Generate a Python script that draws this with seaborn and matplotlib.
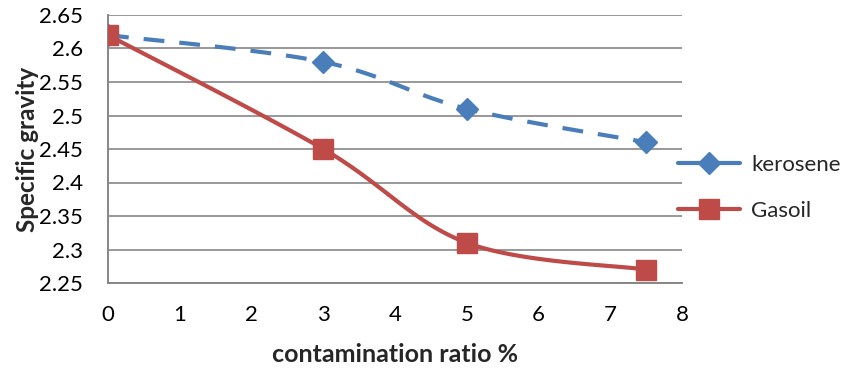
import numpy as np
import pandas as pd
import matplotlib
matplotlib.use("Agg")
import matplotlib.pyplot as plt
from matplotlib.lines import Line2D
import seaborn as sns

# ---- data ----
ratio = [0, 3, 5, 7.5]
kerosene = [2.62, 2.58, 2.51, 2.46]
gasoil = [2.62, 2.45, 2.31, 2.27]
series_names = ["kerosene", "Gasoil"]
x_ticks = [0, 1, 2, 3, 4, 5, 6, 7, 8]
y_ticks = [2.25, 2.3, 2.35, 2.4, 2.45, 2.5, 2.55, 2.6, 2.65]

BLUE = "#4A7EBB"
RED = "#BE4B48"
GRID = "#868686"


def smooth(xs, ys, xr=8.0, yr=0.4, n=40):
    """Catmull-Rom smoothing (like Excel 'smoothed line') through the data points."""
    P = np.column_stack([np.asarray(xs, float) / xr, np.asarray(ys, float) / yr * 0.47])
    P = np.vstack([P[0], P, P[-1]])
    out = []
    for i in range(1, len(P) - 2):
        p0, p1, p2, p3 = P[i - 1], P[i], P[i + 1], P[i + 2]
        t = np.linspace(0, 1, n)[:, None]
        c1 = p1 + (p2 - p0) / 6.0
        c2 = p2 - (p3 - p1) / 6.0
        seg = ((1 - t) ** 3) * p1 + 3 * ((1 - t) ** 2) * t * c1 + 3 * (1 - t) * t ** 2 * c2 + t ** 3 * p2
        out.append(seg if i == 1 else seg[1:])
    S = np.vstack(out)
    return S[:, 0] * xr, S[:, 1] * yr / 0.47


sns.set_style("white")
plt.rcParams["font.family"] = ["Lato", "DejaVu Sans"]

fig = plt.figure(figsize=(8.56, 3.70), dpi=100)
ax = fig.add_axes([108 / 856, 1 - 283 / 370, (682 - 108) / 856, 268 / 370])

kx, ky = smooth(ratio, kerosene)
gx, gy = smooth(ratio, gasoil)
dk = pd.DataFrame({"x": kx, "y": ky})
dg = pd.DataFrame({"x": gx, "y": gy})

sns.lineplot(data=dk, x="x", y="y", ax=ax, color=BLUE, lw=3.0, sort=False,
             estimator=None)
ax.lines[-1].set_dashes((5.0, 3.6))
sns.lineplot(data=dg, x="x", y="y", ax=ax, color=RED, lw=3.0, sort=False,
             estimator=None)

ax.plot(ratio, kerosene, linestyle="none", marker="D", ms=11, color=BLUE,
        markeredgecolor=BLUE, zorder=5)
ax.plot(ratio, gasoil, linestyle="none", marker="s", ms=14, color=RED,
        markeredgecolor=RED, zorder=5)

ax.set_xlim(0, 8)
ax.set_ylim(2.25, 2.65)
ax.set_xticks(x_ticks)
ax.set_yticks(y_ticks)
ax.set_xticklabels([str(v) for v in x_ticks])
ax.set_yticklabels([f"{v:g}" for v in y_ticks])
ax.yaxis.grid(True, color=GRID, lw=1.2)
ax.xaxis.grid(False)
ax.set_axisbelow(True)
for s in ["top", "right"]:
    ax.spines[s].set_visible(False)
for s in ["left", "bottom"]:
    ax.spines[s].set_color(GRID)
    ax.spines[s].set_linewidth(1.4)
ax.tick_params(axis="both", which="both", direction="out", length=6, width=1.2,
               color=GRID, labelsize=16, labelcolor="black")
ax.tick_params(axis="x", pad=10)
ax.tick_params(axis="y", pad=12)

ax.set_xlabel("contamination ratio %", fontsize=18, fontweight="bold", labelpad=13)
ax.set_ylabel("Specific gravity", fontsize=17.5, fontweight="bold", labelpad=0)

handles = [
    Line2D([], [], color=BLUE, lw=3.0, marker="D", ms=11),
    Line2D([], [], color=RED, lw=3.0, marker="s", ms=14),
]
fig.legend(handles, series_names, loc="upper left",
           bbox_to_anchor=(658 / 856, 1 - 135 / 370), frameon=False,
           fontsize=16, handlelength=2.8, labelspacing=1.15, handletextpad=0.5)

fig.savefig("out.png", dpi=100)
